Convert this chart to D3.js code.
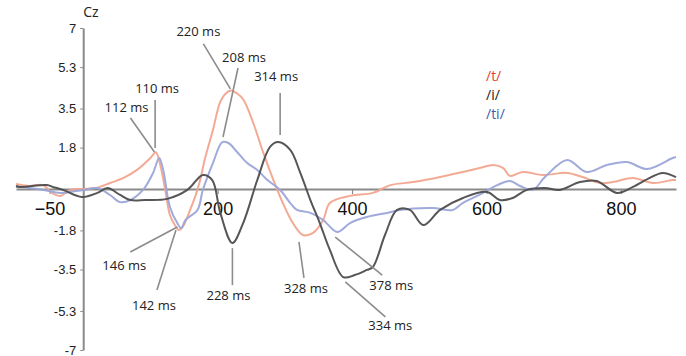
<!DOCTYPE html>
<html>
<head>
<meta charset="utf-8">
<script src="https://cdn.jsdelivr.net/npm/d3@7"></script>
<style>
  body { margin: 0; background: #fff; }
  svg { display: block; font-family: "Open Sans", "Noto Sans", sans-serif; }
</style>
</head>
<body>
<svg id="chart" width="686" height="356"></svg>
<script>
// ERP at Cz, amplitude in microvolts over time in ms
const tTimes = [-100, -80, -60, -45, -34, -19, 0, 20, 40, 60, 80, 100, 108, 115, 122, 129, 137, 142, 149, 159, 167, 174, 181, 193, 204, 212, 220, 229, 238, 253, 268, 283, 297, 312, 327, 342, 357, 367, 397, 431, 457, 491, 531, 565, 590, 610, 625, 635, 654, 684, 720, 743, 769, 788, 818, 848, 877, 882];
const tValues = [0.22, 0.13, 0.17, -0.2, -0.3, -0.04, 0.0, 0.05, 0.26, 0.48, 0.83, 1.35, 1.6, 1.0, -0.04, -1.13, -1.6, -1.78, -1.6, -0.91, -0.3, 0.39, 1.3, 2.57, 3.8, 4.15, 4.28, 4.15, 3.9, 2.87, 1.57, 0.39, -0.61, -1.48, -2.0, -1.91, -1.35, -0.61, -0.3, -0.17, 0.17, 0.30, 0.52, 0.74, 0.91, 1.04, 0.91, 0.57, 0.74, 0.61, 0.70, 0.52, 0.26, 0.30, 0.48, 0.26, 0.39, 0.39];

const iTimes = [-100, -94, -54, -45, -30, -2, 21, 36, 55, 70, 92, 125, 155, 178, 192, 204, 222, 238, 259, 278, 290, 308, 323, 338, 352, 367, 387, 404, 422, 431, 449, 467, 486, 506, 531, 565, 601, 620, 639, 660, 687, 709, 739, 764, 794, 818, 843, 862, 882];
const iValues = [0.13, 0.09, 0.17, 0.09, -0.04, -0.35, -0.17, 0.04, -0.26, -0.48, -0.48, -0.43, -0.04, 0.61, 0.39, -1.04, -2.35, -1.48, 0.39, 1.83, 2.04, 1.70, 0.70, -0.48, -1.48, -2.65, -3.83, -3.74, -3.52, -3.39, -2.0, -0.91, -0.91, -1.57, -0.91, -0.39, -0.13, -0.48, -0.39, -0.04, 0.04, -0.04, 0.30, 0.35, -0.17, 0.09, 0.48, 0.70, 0.52];

const tiTimes = [-100, -94, -59, -34, 0, 21, 40, 55, 70, 89, 104, 113, 119, 129, 140, 146, 152, 170, 178, 193, 207, 216, 229, 244, 259, 274, 293, 308, 318, 338, 357, 378, 397, 422, 452, 471, 520, 550, 565, 580, 595, 616, 635, 650, 669, 687, 720, 749, 779, 809, 839, 877, 882];
const tiValues = [0.09, 0.09, -0.04, -0.17, -0.04, 0.04, -0.26, -0.57, -0.48, -0.04, 0.70, 1.35, 0.83, -0.78, -1.48, -1.70, -1.35, -0.91, -0.04, 1.13, 2.04, 2.0, 1.61, 1.13, 0.83, 0.39, -0.04, -0.61, -0.91, -1.04, -1.35, -1.87, -1.48, -1.22, -1.04, -0.91, -0.83, -0.91, -0.6, -0.39, -0.17, 0.17, 0.35, 0.13, -0.04, 0.52, 1.26, 0.74, 1.04, 1.17, 0.87, 1.35, 1.39];

const seriesNames = ["/t/", "/i/", "/ti/"];
const yTicks = [7, 5.3, 3.5, 1.8, -1.8, -3.5, -5.3, -7];
const xTicks = [-50, 200, 400, 600, 800];

// peak labels: text, time and amplitude the leader line points at
const annoLabels = ["112 ms", "110 ms", "220 ms", "208 ms", "314 ms", "146 ms", "142 ms", "228 ms", "328 ms", "378 ms", "334 ms"];
const annoTimes = [106, 107, 219, 208, 293, 140, 138, 222, 321, 375, 390];
const annoValues = [1.61, 1.78, 4.35, 2.26, 2.35, -1.65, -1.78, -2.57, -2.30, -2.09, -4.04];

// layout of the labels, pixel offsets from the target: line end, text anchor
const annoLayout = [
    { lx: -24, ly: -34, tx: -6, ty: -40, anchor: "end" },
    { lx: 0, ly: -48, tx: 2, ty: -55, anchor: "middle" },
    { lx: -27, ly: -45, tx: -32, ty: -53, anchor: "middle" },
    { lx: 15, ly: -69, tx: 21, ty: -75, anchor: "middle" },
    { lx: 0, ly: -42, tx: -4, ty: -54, anchor: "middle" },
    { lx: -47, ly: 25, tx: -53, ty: 43, anchor: "middle" },
    { lx: -19, ly: 60, tx: -22, ty: 80, anchor: "middle" },
    { lx: 0, ly: 37, tx: -4, ty: 52, anchor: "middle" },
    { lx: 5, ly: 36, tx: 7, ty: 51, anchor: "middle" },
    { lx: 47, ly: 38, tx: 56, ty: 53, anchor: "middle" },
    { lx: 40, ly: 35, tx: 45, ty: 48, anchor: "middle" }
];

const lineColors = ["#f2a58e", "#4d4d4d", "#9ba5d9"];
const legendColors = ["#e8403a", "#222", "#3d5cb0"];

let svg = d3.select("#chart");

let x = d3.scaleLinear().domain([-100, 882]).range([16, 676]);
let y = d3.scaleLinear().domain([-7, 7]).range([350, 28]);

// zero line with the time ticks
let xAxis = svg.append("g")
    .attr("transform", "translate(0," + y(0) + ")")
    .call(d3.axisBottom(x).tickValues(xTicks).tickSize(5).tickSizeOuter(0).tickFormat(d3.format("d")));
xAxis.select(".domain").attr("stroke", "#8a8a8a").attr("stroke-width", 1.8);
xAxis.selectAll(".tick line").attr("stroke", "#8a8a8a").attr("stroke-width", 1.2);
xAxis.selectAll(".tick text")
    .attr("y", 26).attr("dy", 0)
    .attr("fill", "#111")
    .style("font-size", "18px");

let yAxis = svg.append("g")
    .attr("transform", "translate(" + x(0) + ",0)")
    .call(d3.axisLeft(y).tickValues(yTicks).tickSize(3).tickSizeOuter(0).tickPadding(4).tickFormat(d => d));
yAxis.select(".domain").attr("stroke", "#8a8a8a").attr("stroke-width", 2);
yAxis.selectAll(".tick line").attr("stroke", "#8a8a8a");
yAxis.selectAll(".tick text")
    .attr("fill", "#222")
    .style("font-size", "13px");

svg.append("text")
    .attr("x", x(0))
    .attr("y", 17)
    .attr("fill", "#222")
    .style("font-size", "14px")
    .text("Cz");

// waveforms
let series = [
    { times: tTimes, values: tValues },
    { times: iTimes, values: iValues },
    { times: tiTimes, values: tiValues }
];
let line = d3.line()
    .x(d => x(d[0]))
    .y(d => y(d[1]))
    .curve(d3.curveCatmullRom.alpha(0.5));

let drawOrder = [0, 2, 1];
drawOrder.forEach(i => {
    let pts = series[i].times.map((t, k) => [t, series[i].values[k]]);
    svg.append("path")
        .datum(pts)
        .attr("fill", "none")
        .attr("stroke", lineColors[i])
        .attr("stroke-width", 2)
        .attr("stroke-opacity", 0.95)
        .attr("stroke-linejoin", "round")
        .attr("d", line);
});

// leader lines and labels
let annos = svg.append("g");
annoLabels.forEach((label, i) => {
    let px = x(annoTimes[i]), py = y(annoValues[i]);
    let L = annoLayout[i];
    annos.append("line")
        .attr("x1", px).attr("y1", py)
        .attr("x2", px + L.lx).attr("y2", py + L.ly)
        .attr("stroke", "#8c8c8c")
        .attr("stroke-width", 1.6);
    annos.append("text")
        .attr("x", px + L.tx)
        .attr("y", py + L.ty)
        .attr("text-anchor", L.anchor)
        .attr("fill", "#222")
        .style("font-size", "13px")
        .text(label);
});

// legend
svg.append("g").selectAll("text")
    .data(seriesNames)
    .enter()
    .append("text")
    .attr("x", 486)
    .attr("y", (d, i) => 81 + i * 19)
    .attr("fill", (d, i) => legendColors[i])
    .style("font-size", "14px")
    .text(d => d);
</script>
</body>
</html>
